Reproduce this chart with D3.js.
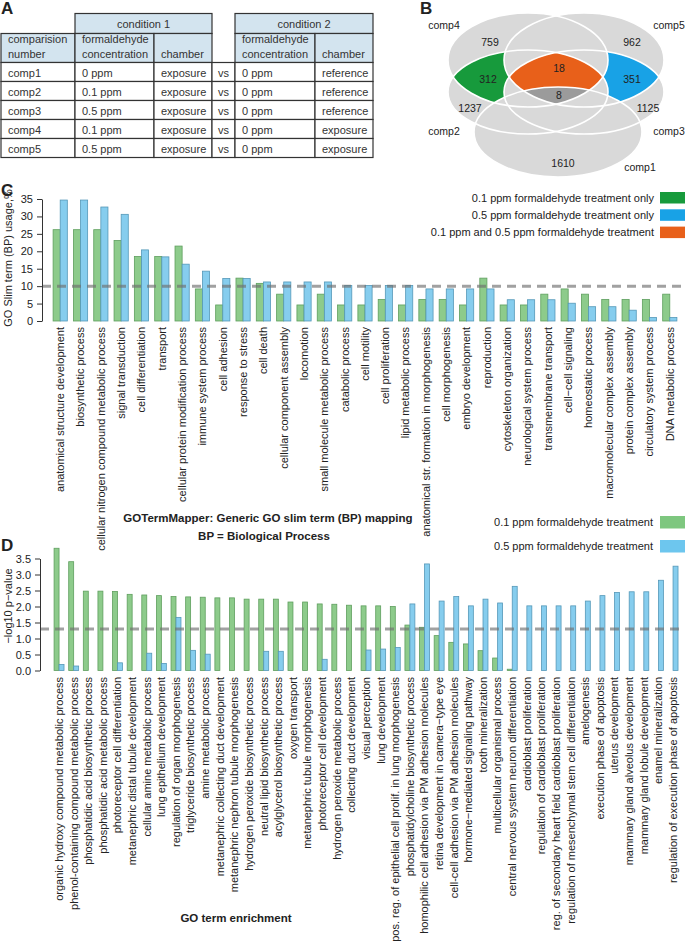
<!DOCTYPE html>
<html>
<head>
<meta charset="utf-8">
<script src="https://cdn.jsdelivr.net/npm/d3@7"></script>
<style>
  body { margin: 0; background: #fff; }
  svg { font-family: "Liberation Sans", Arial, sans-serif; }
</style>
</head>
<body>
<div id="vis"></div>
<script>
// ---- data ----
var tableHeader1 = ["condition 1", "condition 2"];
var tableHeader2 = [["comparision", "number"], ["formaldehyde", "concentration"], ["chamber"], [], ["formaldehyde", "concentration"], ["chamber"]];
var comparisons = ["comp1", "comp2", "comp3", "comp4", "comp5"];
var cond1Conc = ["0 ppm", "0.1 ppm", "0.5 ppm", "0.1 ppm", "0.5 ppm"];
var cond1Chamber = ["exposure", "exposure", "exposure", "exposure", "exposure"];
var cond2Conc = ["0 ppm", "0 ppm", "0 ppm", "0 ppm", "0 ppm"];
var cond2Chamber = ["reference", "reference", "reference", "exposure", "exposure"];

var vennSets = ["comp1", "comp2", "comp3", "comp4", "comp5"];
var vennRegions = ["comp4 only", "comp5 only", "comp2&4", "comp2-5", "comp3&5", "all", "comp2 only", "comp3 only", "comp1 only"];
var vennCounts = [759, 962, 312, 18, 351, 8, 1237, 1125, 1610];

var legendC = ["0.1 ppm formaldehyde treatment only", "0.5 ppm formaldehyde treatment only", "0.1 ppm and 0.5 ppm formaldehyde treatment"];
var slimTerms = ["anatomical structure development", "biosynthetic process", "cellular nitrogen compound metabolic process",
  "signal transduction", "cell differentiation", "transport", "cellular protein modification process",
  "immune system process", "cell adhesion", "response to stress", "cell death", "cellular component assembly",
  "locomotion", "small molecule metabolic process", "catabolic process", "cell motility", "cell proliferation",
  "lipid metabolic process", "anatomical str. formation in morphogenesis", "cell morphogenesis",
  "embryo development", "reproduction", "cytoskeleton organization", "neurological system process",
  "transmembrane transport", "cell\u2212cell signaling", "homeostatic process", "macromolecular complex assembly",
  "protein complex assembly", "circulatory system process", "DNA metabolic process"];
var slim01 = [26.2, 26.2, 26.2, 23.1, 18.5, 18.5, 21.5, 9.2, 4.6, 12.3, 10.8, 7.7, 4.6, 7.7, 4.6, 4.6, 6.2, 4.6,
  6.2, 6.2, 4.6, 12.3, 4.6, 4.6, 7.7, 9.2, 7.7, 6.2, 6.2, 6.2, 7.7];
var slim05 = [34.7, 34.7, 32.7, 30.6, 20.4, 18.4, 16.3, 14.3, 12.2, 12.2, 11.2, 11.2, 11.2, 11.2, 10.2, 10.2, 10.2, 10.2,
  9.2, 9.2, 9.2, 9.2, 6.1, 6.1, 6.1, 5.1, 4.1, 4.1, 3.1, 1.0, 1.0];
var slimTicks = [0, 5, 10, 15, 20, 25, 30, 35];

var legendD = ["0.1 ppm formaldehyde treatment", "0.5 ppm formaldehyde treatment"];
var goTerms = ["organic hydroxy compound metabolic process", "phenol-containing compound metabolic process",
  "phosphatidic acid biosynthetic process", "phosphatidic acid metabolic process", "photoreceptor cell differentiation",
  "metanephric distal tubule development", "cellular amine metabolic process", "lung epithelium development",
  "regulation of organ morphogenesis", "triglyceride biosynthetic process", "amine metabolic process",
  "metanephric collecting duct development", "metanephric nephron tubule morphogenesis",
  "hydrogen peroxide biosynthetic process", "neutral lipid biosynthetic process", "acylglycerol biosynthetic process",
  "oxygen transport", "metanephric tubule morphogenesis", "photoreceptor cell development",
  "hydrogen peroxide metabolic process", "collecting duct development", "visual perception", "lung development",
  "pos. reg. of epithelial cell prolif. in lung morphogenesis", "phosphatidylcholine biosynthetic process",
  "homophilic cell adhesion via PM adhesion molecules", "retina development in camera\u2212type eye",
  "cell-cell adhesion via PM adhesion molecules", "hormone\u2212mediated signaling pathway", "tooth mineralization",
  "multicellular organismal process", "central nervous system neuron differentiation", "cardioblast proliferation",
  "regulation of cardioblast proliferation", "reg. of secondary heart field cardioblast proliferation",
  "regulation of mesenchymal stem cell differentiation", "amelogenesis", "execution phase of apoptosis",
  "uterus development", "mammary gland alveolus development", "mammary gland lobule development",
  "enamel mineralization", "regulation of execution phase of apoptosis"];
var go01 = [3.82, 3.40, 2.48, 2.48, 2.47, 2.38, 2.36, 2.34, 2.31, 2.30, 2.29, 2.27, 2.27, 2.23, 2.23, 2.23, 2.14, 2.14,
  2.08, 2.07, 2.04, 2.02, 2.02, 2.00, 1.42, 1.35, 1.09, 0.88, 0.83, 0.62, 0.39, 0.04, 0, 0, 0, 0, 0, 0, 0, 0, 0, 0, 0];
var go05 = [0.19, 0.14, 0, 0, 0.24, 0, 0.54, 0.22, 1.66, 0.63, 0.51, 0, 0, 0, 0.60, 0.60, 0, 0, 0.35, 0, 0, 0.64, 0.67,
  0.72, 2.08, 3.33, 2.17, 2.31, 2.02, 2.23, 2.11, 2.63, 2.02, 2.02, 2.02, 2.02, 2.17, 2.34, 2.44, 2.46, 2.46, 2.82, 3.26];
var goTicks = [0, 0.5, 1, 1.5, 2, 2.5, 3, 3.5];

// ---- setup ----
var width = 685, height = 945;
var textCol = "#222";
var barGreen = "#8dcb8b", barGreenEdge = "#5f9f5e";
var barBlue = "#86cdee", barBlueEdge = "#5598b8";

var svg = d3.select("#vis").append("svg")
    .attr("width", width)
    .attr("height", height);

function panelLetter(t, x, y) {
    svg.append("text").attr("x", x).attr("y", y)
        .attr("font-size", 17).attr("font-weight", "bold").attr("fill", textCol).text(t);
}

// ---- A: table ----
panelLetter("A", 1, 14);
var colX = [1, 75, 154, 212, 235, 315, 373];
var rowY = [13.5, 33.5, 62.5, 81.5, 100.5, 119.5, 138.5, 157.5];
var hdrFill = "#d3e4ef", border = "#333";
var tA = svg.append("g").attr("font-size", 11).attr("fill", "#333");

// header row 1
[[1, 3], [4, 6]].forEach(function(span, i) {
    tA.append("rect").attr("x", colX[span[0]]).attr("y", rowY[0])
        .attr("width", colX[span[1]] - colX[span[0]]).attr("height", rowY[1] - rowY[0])
        .attr("fill", hdrFill).attr("stroke", border).attr("stroke-width", 1.2);
    tA.append("text").attr("x", (colX[span[0]] + colX[span[1]]) / 2).attr("y", rowY[0] + 14)
        .attr("text-anchor", "middle").text(tableHeader1[i]);
});
// header row 2
tableHeader2.forEach(function(lines, c) {
    if (lines.length == 0) return;
    tA.append("rect").attr("x", colX[c]).attr("y", rowY[1])
        .attr("width", colX[c + 1] - colX[c]).attr("height", rowY[2] - rowY[1])
        .attr("fill", hdrFill).attr("stroke", border).attr("stroke-width", 1.2);
    lines.forEach(function(l, k) {
        tA.append("text").attr("x", colX[c] + 7)
            .attr("y", rowY[2] - 5 - (lines.length - 1 - k) * 15).text(l);
    });
});
// body rows
comparisons.forEach(function(cmp, r) {
    var cells = [cmp, cond1Conc[r], cond1Chamber[r], "vs", cond2Conc[r], cond2Chamber[r]];
    cells.forEach(function(v, c) {
        tA.append("rect").attr("x", colX[c]).attr("y", rowY[r + 2])
            .attr("width", colX[c + 1] - colX[c]).attr("height", rowY[r + 3] - rowY[r + 2])
            .attr("fill", "#fff").attr("stroke", border).attr("stroke-width", 1.2);
        tA.append("text")
            .attr("x", c == 3 ? (colX[3] + colX[4]) / 2 : colX[c] + 7)
            .attr("text-anchor", c == 3 ? "middle" : "start")
            .attr("y", rowY[r + 2] + 14).text(v);
    });
});

// ---- B: venn ----
panelLetter("B", 420, 14);
var ell = {
    comp4: {cx: 528, cy: 60, rx: 80, ry: 47},
    comp5: {cx: 584, cy: 60, rx: 80, ry: 47},
    comp2: {cx: 528, cy: 92, rx: 80, ry: 42},
    comp3: {cx: 584, cy: 92, rx: 80, ry: 42},
    comp1: {cx: 558, cy: 132, rx: 84, ry: 45}
};
var defs = svg.append("defs");
vennSets.forEach(function(s) {
    defs.append("clipPath").attr("id", "clip-" + s).append("ellipse")
        .attr("cx", ell[s].cx).attr("cy", ell[s].cy).attr("rx", ell[s].rx).attr("ry", ell[s].ry);
});
function makeMask(id, outs) {
    var m = defs.append("mask").attr("id", id);
    m.append("rect").attr("x", 400).attr("y", 0).attr("width", 285).attr("height", 190).attr("fill", "#fff");
    outs.forEach(function(s) {
        m.append("ellipse").attr("cx", ell[s].cx).attr("cy", ell[s].cy)
            .attr("rx", ell[s].rx).attr("ry", ell[s].ry).attr("fill", "#000");
    });
}
makeMask("m-green", ["comp5", "comp3", "comp1"]);
makeMask("m-blue", ["comp4", "comp2", "comp1"]);
makeMask("m-orange", ["comp1"]);

var gB = svg.append("g");
vennSets.forEach(function(s) {
    gB.append("ellipse").attr("cx", ell[s].cx).attr("cy", ell[s].cy)
        .attr("rx", ell[s].rx).attr("ry", ell[s].ry).attr("fill", "#d9d9d9");
});
function region(ins, maskId, color) {
    var g = gB.append("g").attr("mask", maskId ? "url(#" + maskId + ")" : null);
    var cur = g;
    ins.forEach(function(s) {
        cur = cur.append("g").attr("clip-path", "url(#clip-" + s + ")");
    });
    cur.append("rect").attr("x", 400).attr("y", 0).attr("width", 285).attr("height", 190).attr("fill", color);
}
region(["comp4", "comp2"], "m-green", "#179a3c");
region(["comp5", "comp3"], "m-blue", "#18a2e6");
region(["comp2", "comp3", "comp4", "comp5"], "m-orange", "#e8601a");
region(["comp1", "comp2", "comp3", "comp4", "comp5"], null, "#9b9b9b");
vennSets.forEach(function(s) {
    gB.append("ellipse").attr("cx", ell[s].cx).attr("cy", ell[s].cy)
        .attr("rx", ell[s].rx).attr("ry", ell[s].ry)
        .attr("fill", "none").attr("stroke", "#fff").attr("stroke-width", 1.6);
});
var countPos = [[490, 42], [632, 42], [488, 79], [559, 68], [632, 79], [559, 95], [470, 108], [648, 108], [563, 163]];
gB.selectAll("text.cnt").data(vennCounts).enter().append("text")
    .attr("class", "cnt")
    .attr("x", function(d, i) { return countPos[i][0]; })
    .attr("y", function(d, i) { return countPos[i][1]; })
    .attr("dy", "0.35em").attr("text-anchor", "middle")
    .attr("font-size", 10.5).attr("fill", textCol)
    .text(function(d) { return d; });
var setPos = {comp1: [640, 167], comp2: [444, 131], comp3: [669, 131], comp4: [444, 25], comp5: [669, 25]};
gB.selectAll("text.set").data(vennSets).enter().append("text")
    .attr("class", "set")
    .attr("x", function(d) { return setPos[d][0]; })
    .attr("y", function(d) { return setPos[d][1]; })
    .attr("dy", "0.35em").attr("text-anchor", "middle")
    .attr("font-size", 10.5).attr("fill", textCol)
    .text(function(d) { return d; });

// ---- grouped bar chart helper ----
function barChart(opt) {
    var g = svg.append("g");
    var x = d3.scaleBand().domain(opt.cats).range(opt.xRange)
        .paddingInner(opt.pad).paddingOuter(opt.pad);
    var xs = d3.scaleBand().domain(["a", "b"]).range([0, x.bandwidth()]);
    var y = d3.scaleLinear().domain(opt.yDomain).range(opt.yRange);

    var rows = opt.cats.map(function(c, i) {
        return [{cat: c, key: "a", v: opt.a[i]}, {cat: c, key: "b", v: opt.b[i]}];
    });
    g.selectAll("g.grp").data(rows).enter().append("g")
        .attr("class", "grp")
        .attr("transform", function(d) { return "translate(" + x(d[0].cat) + ",0)"; })
        .selectAll("rect").data(function(d) { return d; }).enter().append("rect")
        .attr("x", function(d) { return xs(d.key); })
        .attr("width", xs.bandwidth())
        .attr("y", function(d) { return y(d.v); })
        .attr("height", function(d) { return y(0) - y(d.v); })
        .attr("fill", function(d) { return d.key == "a" ? barGreen : barBlue; })
        .attr("stroke", function(d) { return d.key == "a" ? barGreenEdge : barBlueEdge; })
        .attr("stroke-width", 0.8);

    // threshold line
    g.append("line")
        .attr("x1", opt.axisX).attr("x2", 685)
        .attr("y1", y(opt.thresh)).attr("y2", y(opt.thresh))
        .attr("stroke", "#6f6f6f").attr("stroke-opacity", 0.65)
        .attr("stroke-width", 3).attr("stroke-dasharray", "9,6");

    // y axis
    var ax = g.append("g").attr("transform", "translate(" + opt.axisX + ",0)")
        .call(d3.axisLeft(y).tickValues(opt.ticks).tickFormat(opt.fmt)
            .tickSize(5).tickSizeOuter(0).tickPadding(4));
    ax.select(".domain").attr("stroke", "#333");
    ax.selectAll(".tick line").attr("stroke", "#333");
    ax.selectAll("text").attr("font-size", 11).attr("fill", textCol)
        .attr("font-family", "Liberation Sans, Arial, sans-serif");

    g.append("text")
        .attr("transform", "translate(12," + opt.titleY + ") rotate(-90)")
        .attr("text-anchor", "middle").attr("font-size", 11).attr("fill", textCol)
        .text(opt.yTitle);

    // category labels
    g.selectAll("text.cat").data(opt.cats).enter().append("text")
        .attr("class", "cat")
        .attr("transform", function(d) {
            return "translate(" + (x(d) + x.bandwidth() / 2) + "," + opt.labelTop + ") rotate(-90)";
        })
        .attr("dy", "0.35em").attr("text-anchor", "end")
        .attr("font-size", 11).attr("fill", textCol)
        .text(function(d) { return d; });
}

// ---- C ----
panelLetter("C", 1, 196);
barChart({
    cats: slimTerms, a: slim01, b: slim05,
    xRange: [47, 683], pad: 0.3,
    yDomain: [0, 35], yRange: [321, 199], ticks: slimTicks, fmt: d3.format("d"),
    axisX: 42, thresh: 10, yTitle: "GO Slim term (BP) usage,%", titleY: 258, labelTop: 327
});
var legC = svg.append("g");
var legCColors = ["#179a3c", "#18a2e6", "#e8601a"];
legendC.forEach(function(t, i) {
    legC.append("rect").attr("x", 660).attr("y", 192 + i * 17.3).attr("width", 25).attr("height", 11.5)
        .attr("fill", legCColors[i]);
    legC.append("text").attr("x", 654).attr("y", 201.5 + i * 17.3).attr("text-anchor", "end")
        .attr("font-size", 11).attr("fill", textCol).text(t);
});
svg.append("text").attr("x", 268).attr("y", 522).attr("text-anchor", "middle")
    .attr("font-size", 11.5).attr("font-weight", "bold").attr("fill", textCol)
    .text("GOTermMapper: Generic GO slim term (BP) mapping");
svg.append("text").attr("x", 264).attr("y", 540).attr("text-anchor", "middle")
    .attr("font-size", 11.5).attr("font-weight", "bold").attr("fill", textCol)
    .text("BP = Biological Process");

// ---- D ----
panelLetter("D", 1, 551);
barChart({
    cats: goTerms, a: go01, b: go05,
    xRange: [49.4, 682.7], pad: 0.32,
    yDomain: [0, 3.5], yRange: [670.5, 558.5], ticks: goTicks, fmt: d3.format(".1f"),
    axisX: 40, thresh: 1.3, yTitle: "\u2212log10 p\u2212value", titleY: 606, labelTop: 677
});
var legD = svg.append("g");
var legDColors = ["#7ec77f", "#6dc6ee"];
legendD.forEach(function(t, i) {
    legD.append("rect").attr("x", 660).attr("y", 516 + i * 24).attr("width", 25).attr("height", 12.5)
        .attr("fill", legDColors[i]);
    legD.append("text").attr("x", 653).attr("y", 526 + i * 24).attr("text-anchor", "end")
        .attr("font-size", 11).attr("fill", textCol).text(t);
});
svg.append("text").attr("x", 236).attr("y", 922).attr("text-anchor", "middle")
    .attr("font-size", 11.5).attr("font-weight", "bold").attr("fill", textCol)
    .text("GO term enrichment");
</script>
</body>
</html>
